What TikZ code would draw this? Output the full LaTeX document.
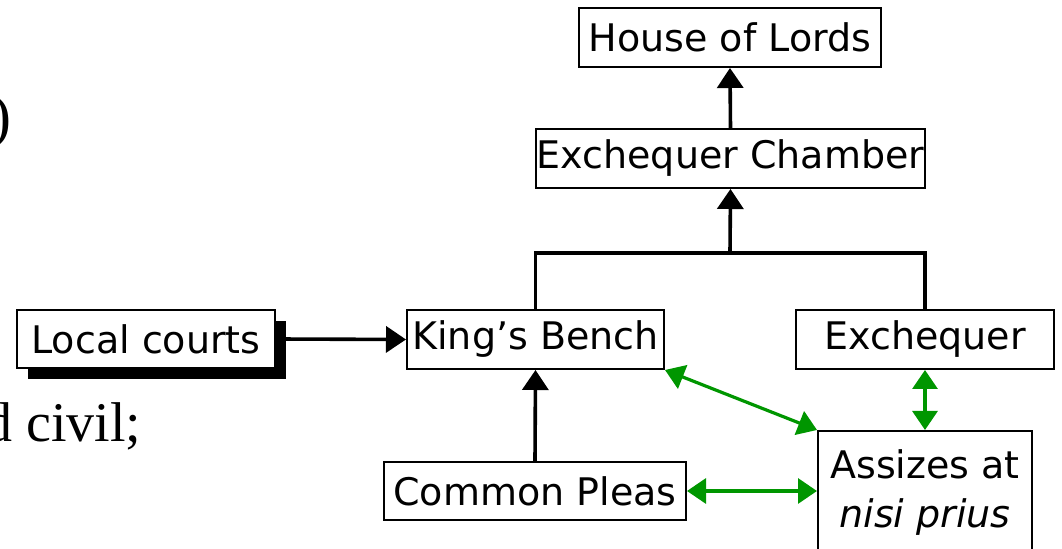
\documentclass[tikz,border=0pt]{standalone}
\usepackage{fontspec}
\setmainfont{DejaVu Sans}
\newfontfamily\serifpage{Liberation Serif}
\usetikzlibrary{arrows.meta,shadows}
\definecolor{courtgreen}{RGB}{0,150,0}
\begin{document}
\begin{tikzpicture}[x=0.5pt,y=-0.5pt,
  court/.style={draw, line width=1pt, fill=white, inner sep=0pt, font=\fontsize{19}{24.5}\selectfont},
  up/.style={line width=1.8pt, -{Triangle[length=10pt,width=13pt]}},
  link/.style={line width=1.6pt, draw=courtgreen, {Triangle[length=9.5pt,width=12.5pt]}-{Triangle[length=9.5pt,width=12.5pt]}},
  frag/.style={inner sep=0pt, font=\serifpage\fontsize{28}{30}\selectfont}
]
\useasboundingbox (0,0) rectangle (1062,549);
\clip (0,0) rectangle (1062,549);
\fill[white] (0,0) rectangle (1062,549);

\node[frag, anchor=base west] (frag1) at (-16,442) {d civil;};
\node[frag, anchor=base east, font=\serifpage\fontsize{30}{32}\selectfont] (frag2) at (12,137) {)};

\node[court, minimum width=151pt, minimum height=29.5pt] (hol) at (730,37.5) {House of Lords};
\node[court, minimum width=194.5pt, minimum height=29.5pt] (ec) at (730.5,158.5) {Exchequer Chamber};
\node[court, minimum width=128.5pt, minimum height=29.5pt] (kb) at (535.5,339.5) {King’s Bench};
\node[court, minimum width=129pt, minimum height=29.5pt] (ex) at (925,339.5) {Exchequer};
\node[court, minimum width=129pt, minimum height=29pt,
  drop shadow={shadow xshift=5.5pt, shadow yshift=-5.5pt, fill=black, opacity=1}] (lc) at (146,339) {Local courts};
\node[court, minimum width=151pt, minimum height=29pt] (cp) at (535,491) {Common Pleas};
\node[court, align=center, minimum width=107pt, minimum height=61.5pt] (as) at (925,492.5) {Assizes at\\\textit{nisi prius}};

\coordinate (j) at (730,253);
\draw[line width=1.8pt] (kb.north) |- (j) -| (ex.north);
\draw[up] (j) -- (ec.south);
\draw[up] (ec.north) -- (hol.south);
\draw[up] (cp.north) -- (kb.south);
\draw[up] (lc.east) -- (kb.west);
\draw[link] (cp.east) -- (cp.east -| as.west);
\draw[link] (kb.south east) -- (as.north west);
\draw[link] (ex.south) -- (as.north);
\end{tikzpicture}
\end{document}
